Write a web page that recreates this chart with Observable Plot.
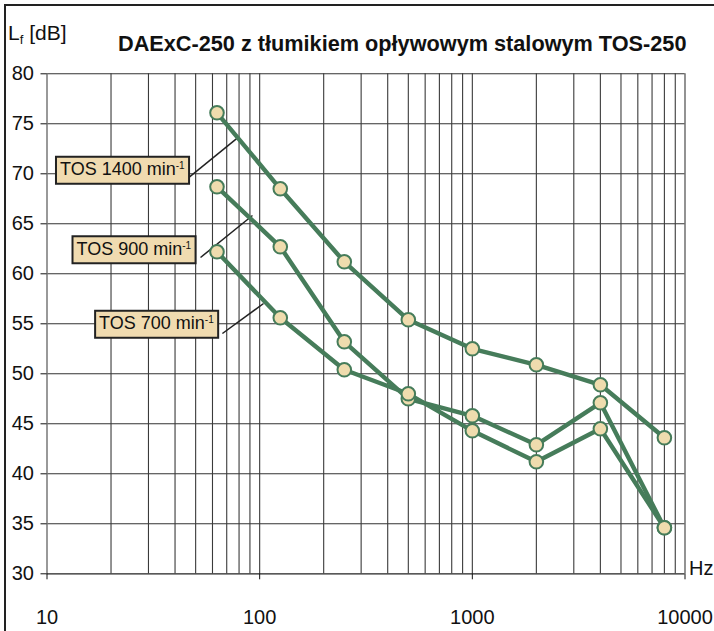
<!DOCTYPE html>
<html><head><meta charset="utf-8">
<script src="https://cdn.jsdelivr.net/npm/d3@7"></script>
<script src="https://cdn.jsdelivr.net/npm/@observablehq/plot@0.6"></script>
<style>body{margin:0;background:#fff} svg{display:block}</style>
</head><body><div id="chart"></div>
<script>
const titleText = "DAExC-250 z tłumikiem opływowym stalowym TOS-250";
const freqs = [63, 125, 250, 500, 1000, 2000, 4000, 8000];
const tos1400 = [76.1, 68.5, 61.2, 55.4, 52.5, 50.9, 48.9, 43.6];
const tos900 = [68.7, 62.7, 53.2, 47.5, 45.8, 42.9, 47.1, 34.6];
const tos700 = [62.2, 55.6, 50.4, 48.0, 44.3, 41.2, 44.5, 34.6];
const seriesNames = ["TOS 1400", "TOS 900", "TOS 700"];
const seriesValues = [tos1400, tos900, tos700];
const xTicks = [10, 100, 1000, 10000];
const yTicks = [30, 35, 40, 45, 50, 55, 60, 65, 70, 75, 80];
const gridFreqs = [20,30,40,50,60,70,80,90,100,200,300,400,500,600,700,800,900,1000,2000,3000,4000,5000,6000,7000,8000,9000,10000];
const labelText = ["TOS 1400 min", "TOS 900 min", "TOS 700 min"];
const labelSup = "-1";
const labelX = [22.6, 25.6, 32.7];
const labelY = [70.43, 62.48, 55.03];
const leaderFromX = [46.2, 52.7, 66.8];
const leaderFromY = [69.6, 61.63, 54.03];
const leaderToX = [78.7, 92.5, 104.3];
const leaderToY = [73.6, 65.83, 57.03];

const data = seriesNames.flatMap((s, i) => freqs.map((f, j) => ({series: s, f, v: seriesValues[i][j]})));
const labels = labelText.map((t, i) => ({
  text: t, x: labelX[i], y: labelY[i],
  x1: leaderFromX[i], y1: leaderFromY[i], x2: leaderToX[i], y2: leaderToY[i]
}));

const green = "#467c5a";
const font = "'Liberation Sans', Arial, sans-serif";

const plot = Plot.plot({
  width: 714, height: 631,
  marginLeft: 46.5, marginRight: 29.5, marginTop: 73.3, marginBottom: 57.7,
  style: {fontFamily: font, fontSize: "20px", color: "#111", background: "#fff"},
  x: {type: "log", domain: [10, 10000]},
  y: {domain: [30, 80]},
  marks: [
    Plot.ruleY(yTicks.filter(d => d > 30), {x1: 10, x2: 10000, stroke: "#333", strokeWidth: 1.1}),
    Plot.ruleX(gridFreqs, {y1: 30, y2: 80, stroke: "#3a3a3a", strokeWidth: 1.1}),
    Plot.ruleX([10], {y1: 30, y2: 80, stroke: "#777", strokeWidth: 1.5}),
    Plot.ruleY([30], {x1: 10, x2: 10000, stroke: "#222", strokeWidth: 1.2}),
    Plot.axisX(xTicks, {tickSize: 6, tickPadding: 30, tickFormat: d3.format("d"), label: null, fontSize: 20}),
    Plot.axisY(yTicks, {tickSize: 6, tickPadding: 7, label: null, fontSize: 20}),
    Plot.link(labels, {x1: "x1", y1: "y1", x2: "x2", y2: "y2", stroke: "#222", strokeWidth: 1.5}),
    Plot.line(data, {x: "f", y: "v", z: "series", stroke: green, strokeWidth: 4.4}),
    Plot.dot(data, {x: "f", y: "v", r: 6.8, fill: "#efdcae", stroke: green, strokeWidth: 2}),
    Plot.text(labels, {x: "x", y: "y", text: "text", fontSize: 18, fill: "#111"})
  ]
});
document.getElementById("chart").append(plot);

const svg = d3.select(plot);
svg.selectAll("g[aria-label='text'] text").each(function() {
  const node = this;
  d3.select(node).append("tspan").attr("dy", "-0.6em").attr("font-size", 10).text(labelSup);
  const bb = node.getBBox();
  const padX = 4, padY = 3.5;
  d3.select(node.parentNode).insert("rect", () => node)
    .attr("x", bb.x - padX).attr("y", bb.y + 1 - padY)
    .attr("width", bb.width + 2 * padX).attr("height", bb.height + 2 * padY)
    .attr("transform", node.getAttribute("transform"))
    .attr("fill", "#f0dbb0").attr("stroke", "#222").attr("stroke-width", 2);
});

svg.append("text").attr("x", 118).attr("y", 51).attr("text-anchor", "start")
  .attr("font-family", font).attr("font-weight", "bold").attr("font-size", 21.7).attr("fill", "#111")
  .text(titleText);
const lf = svg.append("text").attr("x", 8).attr("y", 40).attr("text-anchor", "start")
  .attr("font-family", font).attr("font-size", 21).attr("fill", "#111");
lf.append("tspan").text("L");
lf.append("tspan").attr("font-size", 13).attr("dy", 4).text("f");
lf.append("tspan").attr("dy", -4).text(" [dB]");
svg.append("text").attr("x", 689).attr("y", 575).attr("text-anchor", "start")
  .attr("font-family", font).attr("font-size", 20).attr("fill", "#111").text("Hz");
svg.append("path").attr("d", "M5,631V5H714").attr("fill", "none").attr("stroke", "#222").attr("stroke-width", 2);
</script>
</body></html>
